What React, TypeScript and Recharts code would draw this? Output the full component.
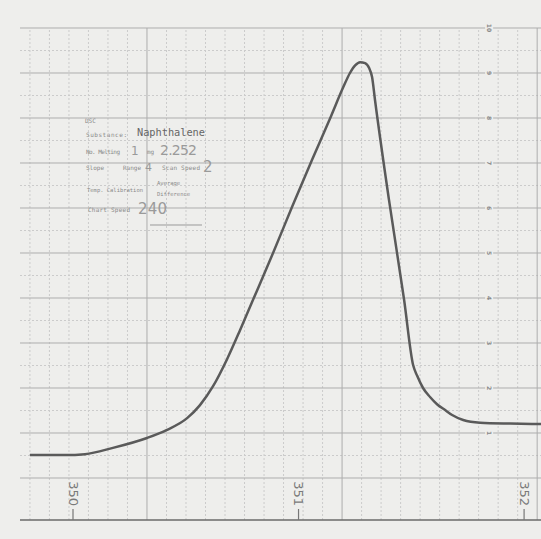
import { LineChart, Line, XAxis, YAxis, ReferenceLine, ReferenceDot } from 'recharts'

// temperature (K)
const temps = [
  349.809, 349.965, 350.053, 350.177, 350.328, 350.417, 350.506, 350.563, 350.621, 350.683,
  350.741, 350.794, 350.887, 350.971, 351.06, 351.144, 351.197, 351.228, 351.251, 351.273,
  351.295, 351.313, 351.326, 351.339, 351.401, 351.468, 351.508, 351.526, 351.552, 351.583,
  351.614, 351.65, 351.681, 351.73, 351.805, 351.938, 352.075,
]
// pen deflection in chart divisions
const deflection = [
  0.51, 0.51, 0.53, 0.67, 0.89, 1.07, 1.33, 1.62, 2.04, 2.64,
  3.29, 3.91, 5.0, 6.02, 7.07, 8.04, 8.67, 9.0, 9.17, 9.24,
  9.22, 9.11, 8.91, 8.4, 6.18, 3.96, 2.51, 2.27, 2.0, 1.8,
  1.64, 1.51, 1.4, 1.29, 1.23, 1.21, 1.2,
]
const tempTicks = [350, 351, 352]
const divisionTicks = [1, 2, 3, 4, 5, 6, 7, 8, 9, 10]
const divisionLabels = ['1', '2', '3', '4', '5', '6', '7', '8', '9', '10']

const data = temps.map((t, i) => ({ t, v: deflection[i] }))

const X_MIN = 349.765
const X_MAX = 352.075
const Y_MIN = -0.9333
const Y_MAX = 10
const LABEL_T = 351.845

// chart paper grid (not aligned with temperature)
const GRID_MAJOR_X = [350.328, 351.193, 352.058]
const GRID_STEP_X = (GRID_MAJOR_X[1] - GRID_MAJOR_X[0]) / 10
const minorX: number[] = []
for (let k = -6; k <= 20; k++) {
  const t = GRID_MAJOR_X[0] + k * GRID_STEP_X
  if (k % 10 !== 0 && t > X_MIN && t < X_MAX) minorX.push(t)
}
const majorY = [0, 1, 2, 3, 4, 5, 6, 7, 8, 9, 10]
const minorY = majorY.slice(0, -1).map(v => v + 0.5)

const PAPER = '#eeeeec'
const INK = '#5a5a5a'

function TempTick({ x, y, payload }: any) {
  const ty = y - 14
  return (
    <g>
      <line x1={x} x2={x} y1={y - 11} y2={y} stroke="#777" strokeWidth={1.2} />
      <text
        x={x}
        y={ty}
        transform={`rotate(90 ${x} ${ty})`}
        textAnchor="end"
        dominantBaseline="central"
        fontFamily="DejaVu Sans"
        fontSize={13}
        fill="#7a7a7a"
      >
        {payload.value}
      </text>
    </g>
  )
}

function DivLabel({ cx, cy, label }: any) {
  return (
    <g>
      <rect x={cx - 4} y={cy - 5} width={8} height={10} fill={PAPER} />
      <text
        x={cx}
        y={cy}
        transform={`rotate(90 ${cx} ${cy})`}
        textAnchor="middle"
        dominantBaseline="central"
        fontFamily="DejaVu Sans"
        fontSize={6}
        fontWeight="bold"
        fill="#888"
      >
        {label}
      </text>
    </g>
  )
}

function Stamp() {
  const mono = 'DejaVu Sans Mono'
  const hand = 'DejaVu Sans'
  return (
    <svg width={541} height={539} style={{ position: 'absolute', left: 0, top: 0, pointerEvents: 'none' }}>
      <g fill="#8a8a8a" fontFamily={mono} fontSize={6}>
        <text x={85} y={123}>DSC</text>
        <text x={86} y={137} textLength={41}>Substance:</text>
        <text x={86} y={154} textLength={34}>No. Melting</text>
        <text x={147} y={154}>mg</text>
        <text x={86} y={170}>Slope</text>
        <text x={123} y={170}>Range</text>
        <text x={162} y={170} textLength={38}>Scan Speed</text>
        <text x={87} y={192} fontSize={5.5} textLength={56}>Temp. Calibration</text>
        <text x={157} y={185} fontSize={5.5}>Average</text>
        <text x={157} y={196} fontSize={5.5}>Difference</text>
        <text x={88} y={212} textLength={42}>Chart Speed</text>
      </g>
      <text x={137} y={136} fontFamily={mono} fontSize={10.3} fill="#666" textLength={68}>
        Naphthalene
      </text>
      <g fill="#9a9a9a" fontFamily={hand}>
        <text x={131} y={155} fontSize={12}>1</text>
        <text x={160} y={155} fontSize={14} textLength={37}>2.252</text>
        <text x={145} y={171} fontSize={11}>4</text>
        <text x={203} y={172} fontSize={15}>2</text>
        <text x={138} y={214} fontSize={15} textLength={29}>240</text>
      </g>
      <line x1={150} x2={202} y1={225} y2={225} stroke="#999" strokeWidth={1} />
    </svg>
  )
}

export default function App() {
  return (
    <div style={{ position: 'absolute', left: 0, top: 0, width: 541, height: 539, background: PAPER }}>
      <LineChart width={541} height={539} data={data} margin={{ top: 28, right: 0, bottom: 0, left: 20 }}>
        {minorX.map(t => (
          <ReferenceLine key={`mx${t}`} x={t} stroke="#cbcbcb" strokeDasharray="2 2" strokeWidth={1} />
        ))}
        {minorY.map(v => (
          <ReferenceLine key={`my${v}`} y={v} stroke="#cbcbcb" strokeDasharray="2 2" strokeWidth={1} />
        ))}
        {GRID_MAJOR_X.map(t => (
          <ReferenceLine key={`Mx${t}`} x={t} stroke="#adadad" strokeWidth={1} />
        ))}
        {majorY.map(v => (
          <ReferenceLine key={`My${v}`} y={v} stroke="#adadad" strokeWidth={1} />
        ))}
        {divisionTicks.map((v, i) => (
          <ReferenceDot
            key={`lab${v}`}
            x={LABEL_T}
            y={v}
            r={4}
            shape={(p: any) => <DivLabel cx={p.cx} cy={p.cy} label={divisionLabels[i]} />}
          />
        ))}
        <XAxis
          dataKey="t"
          type="number"
          domain={[X_MIN, X_MAX]}
          allowDataOverflow
          ticks={tempTicks}
          height={19}
          tickSize={0}
          tickMargin={0}
          tickLine={false}
          axisLine={{ stroke: '#6a6a6a', strokeWidth: 1.6 }}
          tick={<TempTick />}
        />
        <YAxis type="number" domain={[Y_MIN, Y_MAX]} allowDataOverflow hide />
        <Line
          type="monotone"
          dataKey="v"
          stroke={INK}
          strokeWidth={2.5}
          dot={false}
          isAnimationActive={false}
        />
      </LineChart>
      <Stamp />
    </div>
  )
}
